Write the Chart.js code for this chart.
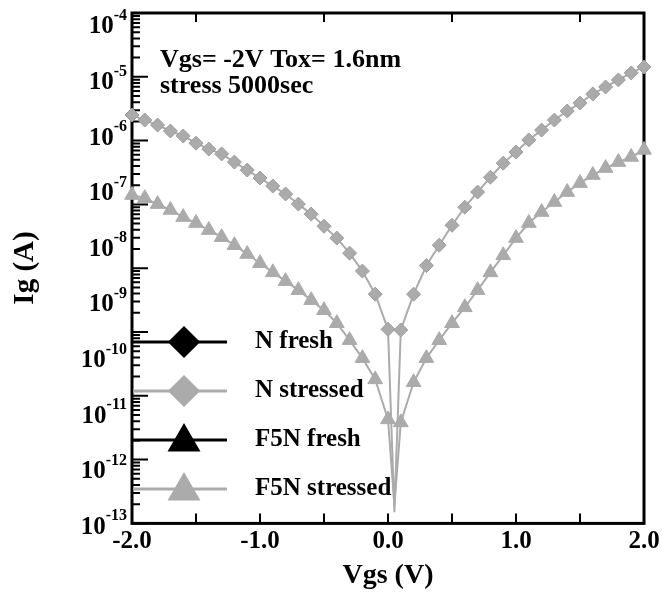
<!DOCTYPE html>
<html>
<head>
<meta charset="utf-8">
<script src="https://cdn.jsdelivr.net/npm/chart.js@4.4.0/dist/chart.umd.min.js"></script>
<style>
  html, body { margin: 0; padding: 0; background: #fff; }
</style>
</head>
<body>
<canvas id="igChart" width="663" height="593"></canvas>
<script>
// gate voltage sweep (V)
const vgs = [-2.0, -1.9, -1.8, -1.7, -1.6, -1.5, -1.4, -1.3, -1.2, -1.1, -1.0,
  -0.9, -0.8, -0.7, -0.6, -0.5, -0.4, -0.3, -0.2, -0.1, 0.0, 0.05,
  0.1, 0.2, 0.3, 0.4, 0.5, 0.6, 0.7, 0.8, 0.9, 1.0,
  1.1, 1.2, 1.3, 1.4, 1.5, 1.6, 1.7, 1.8, 1.9, 2.0];

// gate current (A)
const nStressed = [2.5e-6, 2.03e-6, 1.65e-6, 1.29e-6, 1.05e-6, 7.8e-7, 6.1e-7, 5.0e-7, 3.56e-7, 2.56e-7, 1.84e-7,
  1.32e-7, 9.5e-8, 6.25e-8, 4.13e-8, 2.5e-8, 1.53e-8, 8.2e-9, 3.9e-9, 1.5e-9, 3.5e-10, 1.8e-13,
  3.4e-10, 1.5e-9, 4.9e-9, 1.14e-8, 2.6e-8, 5.5e-8, 1.03e-7, 1.9e-7, 3.4e-7, 5.4e-7,
  8.9e-7, 1.34e-6, 2.03e-6, 2.95e-6, 4.1e-6, 5.97e-6, 8.0e-6, 1.07e-5, 1.43e-5, 1.83e-5];

const f5nStressed = [9.1e-8, 8.0e-8, 6.25e-8, 4.9e-8, 3.65e-8, 2.85e-8, 2.13e-8, 1.59e-8, 1.14e-8, 7.9e-9, 5.4e-9,
  3.7e-9, 2.57e-9, 1.77e-9, 1.17e-9, 7.7e-10, 4.5e-10, 2.23e-10, 1.06e-10, 4.4e-11, 8.4e-12, 2.4e-13,
  7.4e-12, 3.9e-11, 1.06e-10, 2.23e-10, 4.5e-10, 8.7e-10, 1.77e-9, 3.7e-9, 7.5e-9, 1.53e-8,
  2.85e-8, 4.5e-8, 6.8e-8, 1.03e-7, 1.49e-7, 2.08e-7, 2.78e-7, 3.56e-7, 4.4e-7, 5.9e-7];

// fresh curves only show up in the legend
const nFresh = [];
const f5nFresh = [];

const seriesNames = ['N fresh', 'N stressed', 'F5N fresh', 'F5N stressed'];
const yExponents = [-4, -5, -6, -7, -8, -9, -10, -11, -12, -13];
const bottomTicks = [-1.5, -1.0, -0.5, 0.0, 0.5, 1.0, 1.5];
const topTicks = [-1.5, -0.5, 0.5, 1.5];
const noteLines = ['Vgs= -2V Tox= 1.6nm', 'stress 5000sec'];

const serif = "'Liberation Serif', 'Times New Roman', serif";
const black = '#000000';
const grey = '#ababab';

function pts(ys) {
  return ys.map((y, i) => ({ x: vgs[i], y: y }));
}

// no marker on the narrow dip between 0.0 and 0.1
const hideDip = r => ctx => (vgs[ctx.dataIndex] === 0.05 ? 0 : r);

const frame = {
  id: 'frame',
  beforeDatasetsDraw(chart) {
    const { ctx, chartArea: a, scales } = chart;
    const x = scales.x, yt = scales.yTick;
    ctx.save();
    ctx.strokeStyle = black;
    ctx.lineWidth = 2;
    ctx.beginPath();
    bottomTicks.forEach(v => {
      const px = x.getPixelForValue(v);
      ctx.moveTo(px, a.bottom); ctx.lineTo(px, a.bottom - 10);
    });
    topTicks.forEach(v => {
      const px = x.getPixelForValue(v);
      ctx.moveTo(px, a.top); ctx.lineTo(px, a.top + 9);
    });
    for (let e = -12; e < -4; e++) {
      for (let m = 1; m < 10; m++) {
        const py = yt.getPixelForValue(m * Math.pow(10, e));
        const len = m === 1 ? 16 : 8;
        ctx.moveTo(a.left, py); ctx.lineTo(a.left + len, py);
      }
    }
    ctx.stroke();
    ctx.lineWidth = 3;
    ctx.strokeRect(a.left, a.top, a.right - a.left, a.bottom - a.top);
    ctx.restore();
  },
  afterDraw(chart) {
    const { ctx, chartArea: a, scales } = chart;
    const y = scales.y;
    ctx.save();
    ctx.fillStyle = black;

    // y tick labels 10^n
    ctx.textAlign = 'right';
    ctx.textBaseline = 'middle';
    yExponents.forEach(e => {
      const py = y.getPixelForValue(Math.pow(10, e));
      ctx.font = 'bold 16px ' + serif;
      const sup = String(e);
      const sw = ctx.measureText(sup).width;
      ctx.fillText(sup, a.left - 5, py - 10);
      ctx.font = 'bold 25px ' + serif;
      ctx.fillText('10', a.left - 5 - sw, py + 1);
    });

    // y title
    ctx.save();
    ctx.translate(26, 268);
    ctx.rotate(-Math.PI / 2);
    ctx.textAlign = 'center';
    ctx.font = 'bold 29px ' + serif;
    ctx.fillText('Ig (A)', 0, 0);
    ctx.restore();

    // note in the top left
    ctx.textAlign = 'left';
    ctx.textBaseline = 'alphabetic';
    ctx.font = 'bold 26px ' + serif;
    ctx.fillText(noteLines[0], 160, 67);
    ctx.fillText(noteLines[1], 160, 93);

    // legend in the lower left
    chart.data.datasets.forEach((ds, i) => {
      const ry = 342 + i * 49;
      ctx.strokeStyle = ds.borderColor;
      ctx.lineWidth = 3;
      ctx.beginPath();
      ctx.moveTo(a.left + 1, ry); ctx.lineTo(227, ry);
      ctx.stroke();
      ctx.fillStyle = ds.backgroundColor;
      ctx.strokeStyle = ds.backgroundColor;
      Chart.helpers.drawPoint(ctx, {
        pointStyle: ds.pointStyle,
        radius: ds.pointStyle === 'triangle' ? 16 : 14,
        rotation: 0,
        borderWidth: 1
      }, 184, ds.pointStyle === 'triangle' ? ry + 2 : ry);
      ctx.fillStyle = black;
      ctx.font = 'bold 25px ' + serif;
      ctx.textBaseline = 'middle';
      ctx.fillText(ds.label, 255, ry);
    });
    ctx.restore();
  }
};

new Chart(document.getElementById('igChart'), {
  type: 'line',
  data: {
    datasets: [
      { label: seriesNames[0], data: pts(nFresh), borderColor: black, backgroundColor: black,
        pointStyle: 'rectRot', pointRadius: 7, borderWidth: 2 },
      { label: seriesNames[1], data: pts(nStressed), borderColor: grey, backgroundColor: grey,
        pointBorderColor: '#9d9d9d', pointBorderWidth: 1,
        pointStyle: 'rectRot', pointRadius: hideDip(7), borderWidth: 2 },
      { label: seriesNames[2], data: pts(f5nFresh), borderColor: black, backgroundColor: black,
        pointStyle: 'triangle', pointRadius: 8.5, borderWidth: 2 },
      { label: seriesNames[3], data: pts(f5nStressed), borderColor: grey, backgroundColor: grey,
        pointBorderColor: grey, pointBorderWidth: 1,
        pointStyle: 'triangle', pointRadius: hideDip(8.5), borderWidth: 2 }
    ]
  },
  options: {
    responsive: false,
    animation: false,
    devicePixelRatio: 1,
    clip: false,
    layout: { padding: { left: 132, right: 19, top: 13, bottom: 0 } },
    plugins: {
      legend: { display: false },
      tooltip: { enabled: false }
    },
    scales: {
      x: {
        type: 'linear',
        min: -2, max: 2,
        grid: { display: false, drawTicks: false, tickLength: 0 },
        border: { display: false },
        ticks: {
          stepSize: 1,
          padding: 3,
          color: black,
          font: { family: serif, size: 25, weight: 'bold' },
          maxRotation: 0,
          callback: v => v.toFixed(1)
        },
        title: {
          display: true,
          text: 'Vgs (V)',
          color: black,
          font: { family: serif, size: 28, weight: 'bold' },
          padding: { top: 0, bottom: 0 }
        }
      },
      y: {
        type: 'logarithmic',
        display: false,
        min: 1.13e-13,
        max: 1.71e-4
      },
      yTick: {
        type: 'logarithmic',
        display: false,
        min: 1e-12,
        max: 1e-4
      }
    }
  },
  plugins: [frame]
});
</script>
</body>
</html>
